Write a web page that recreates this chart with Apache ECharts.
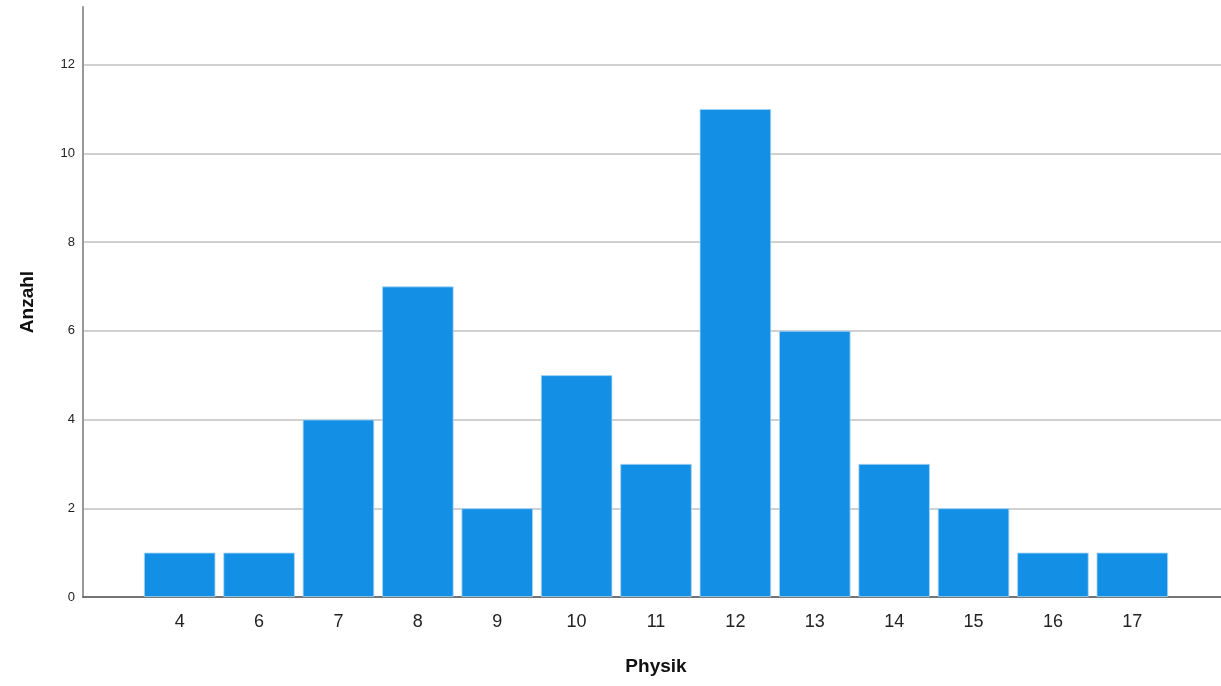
<!DOCTYPE html>
<html>
<head>
<meta charset="utf-8">
<script src="https://cdn.jsdelivr.net/npm/echarts@6/dist/echarts.min.js"></script>
<style>
html,body{margin:0;padding:0;background:#fff;}
#chart{width:1221px;height:686px;}
</style>
</head>
<body>
<div id="chart"></div>
<script>
const categories = ['4','6','7','8','9','10','11','12','13','14','15','16','17'];
const counts = [1,1,4,7,2,5,3,11,6,3,2,1,1];
const yMax = 13.3;

const chart = echarts.init(document.getElementById('chart'));
const font = 'Arial, "Liberation Sans", sans-serif';
chart.setOption({
  animation: false,
  backgroundColor: '#ffffff',
  grid: [
    {left: 83, right: 0, top: 7, bottom: 89},
    {left: 140, right: 49, top: 7, bottom: 89}
  ],
  xAxis: [
    {type: 'value', gridIndex: 0, min: 0, max: 1, show: true,
     axisLine: {show: true, onZero: false, lineStyle: {color: '#555', width: 1.5}},
     axisTick: {show: false}, axisLabel: {show: false}, splitLine: {show: false}},
    {type: 'category', gridIndex: 1, data: categories, boundaryGap: true,
     axisLine: {show: false}, axisTick: {show: false},
     axisLabel: {fontSize: 18, color: '#222', margin: 16, fontFamily: font},
     name: 'Physik', nameLocation: 'middle', nameGap: 60,
     nameTextStyle: {fontSize: 19, fontWeight: 'bold', color: '#111', fontFamily: font}}
  ],
  yAxis: [
    {type: 'value', gridIndex: 0, min: 0, max: yMax, interval: 2,
     axisLine: {show: true, lineStyle: {color: '#999', width: 2}},
     axisTick: {show: false},
     axisLabel: {fontSize: 13, color: '#222', margin: 8, fontFamily: font,
       showMaxLabel: false,
       formatter: v => (v % 2 === 0 ? String(v) : '')},
     splitLine: {show: true, showMaxLine: false, lineStyle: {color: '#d0d0d0', width: 2}},
     name: 'Anzahl', nameLocation: 'middle', nameGap: 46,
     nameTextStyle: {fontSize: 19, fontWeight: 'bold', color: '#111', fontFamily: font}},
    {type: 'value', gridIndex: 1, min: 0, max: yMax, show: false}
  ],
  series: [{
    type: 'bar', xAxisIndex: 1, yAxisIndex: 1, data: counts,
    barCategoryGap: '10%',
    itemStyle: {color: '#1390e6', borderColor: '#a9d6f5', borderWidth: 0.8}
  }]
});
</script>
</body>
</html>
